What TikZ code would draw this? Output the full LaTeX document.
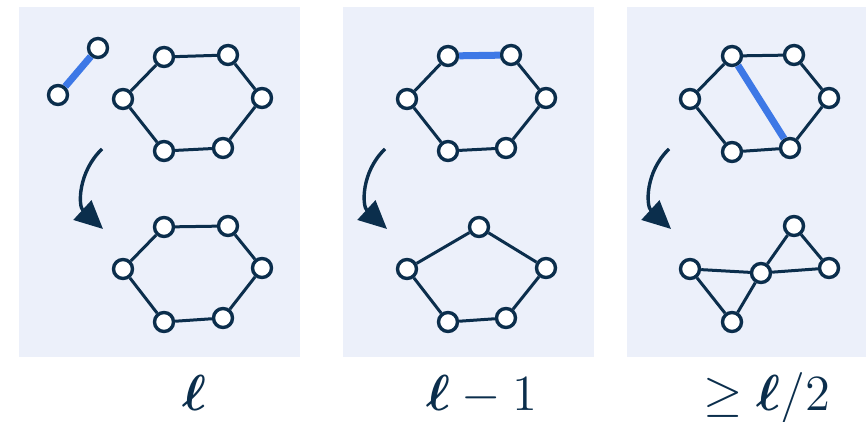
\documentclass[tikz,border=0pt]{standalone}
\usepackage{amsmath,amssymb}
\usepackage{tikz}
\usetikzlibrary{arrows.meta}
\definecolor{navy}{HTML}{0B2E4C}
\definecolor{hlblue}{HTML}{3D78E6}
\definecolor{panelbg}{HTML}{ECF0FA}
\tikzset{
  vtx/.style={circle, draw=navy, fill=white, line width=0.034cm, minimum size=0.19cm, inner sep=0pt},
  link/.style={draw=navy, line width=0.03cm},
  hl/.style={draw=hlblue, line width=0.07cm},
  flow/.style={draw=navy, line width=0.034cm, -{Triangle[length=0.28cm,width=0.26cm]}},
  panel/.style={fill=panelbg, draw=none},
  lbl/.style={text=navy, anchor=base, inner sep=0pt, font=\fontsize{14.5}{17}\selectfont}
}
\begin{document}
\begin{tikzpicture}[x=0.01cm, y=-0.01cm]
\useasboundingbox (0,0) rectangle (867,422);
% panels
\fill[panel] (19,7) rectangle (300,357);
\fill[panel] (343,7) rectangle (594,357);
\fill[panel] (627,7) rectangle (866,357);
% panel A: extra edge + hexagon
\node[vtx] (ka) at (98,48) {};
\node[vtx] (kb) at (58,95) {};
\node[vtx] (ta1) at (164,57) {};
\node[vtx] (ta2) at (228,55) {};
\node[vtx] (ta3) at (262,98) {};
\node[vtx] (ta4) at (223,148) {};
\node[vtx] (ta5) at (164,151) {};
\node[vtx] (ta6) at (123,99) {};
\node[vtx] (ba1) at (164,227) {};
\node[vtx] (ba2) at (228,226) {};
\node[vtx] (ba3) at (262,268) {};
\node[vtx] (ba4) at (223,318) {};
\node[vtx] (ba5) at (164,322) {};
\node[vtx] (ba6) at (123,269) {};
\draw[hl] (ka) -- (kb);
\draw[link] (ta1) -- (ta2) -- (ta3) -- (ta4) -- (ta5) -- (ta6) -- (ta1);
\draw[link] (ba1) -- (ba2) -- (ba3) -- (ba4) -- (ba5) -- (ba6) -- (ba1);
\coordinate (fa0) at (102,149);
\coordinate (fa1) at (103,229);
\draw[flow] (fa0) .. controls +(-24,23) and +(-25,-23) .. (fa1);
% panel B: hexagon -> pentagon
\node[vtx] (tb1) at (448,56) {};
\node[vtx] (tb2) at (511,55) {};
\node[vtx] (tb3) at (546,98) {};
\node[vtx] (tb4) at (506,148) {};
\node[vtx] (tb5) at (448,151) {};
\node[vtx] (tb6) at (407,99) {};
\node[vtx] (bb1) at (479,227) {};
\node[vtx] (bb2) at (546,268) {};
\node[vtx] (bb3) at (506,318) {};
\node[vtx] (bb4) at (448,322) {};
\node[vtx] (bb5) at (407,269) {};
\draw[hl] (tb1) -- (tb2);
\draw[link] (tb2) -- (tb3) -- (tb4) -- (tb5) -- (tb6) -- (tb1);
\draw[link] (bb1) -- (bb2) -- (bb3) -- (bb4) -- (bb5) -- (bb1);
\coordinate (fb0) at (385,149);
\coordinate (fb1) at (387,229);
\draw[flow] (fb0) .. controls +(-24,23) and +(-25,-23) .. (fb1);
% panel C: hexagon with chord -> two triangles
\node[vtx] (tc1) at (732,56) {};
\node[vtx] (tc2) at (794,55) {};
\node[vtx] (tc3) at (829,98) {};
\node[vtx] (tc4) at (790,148) {};
\node[vtx] (tc5) at (732,152) {};
\node[vtx] (tc6) at (690,99) {};
\node[vtx] (bc1) at (690,269) {};
\node[vtx] (bc2) at (761,273) {};
\node[vtx] (bc3) at (732,322) {};
\node[vtx] (bc4) at (794,226) {};
\node[vtx] (bc5) at (829,268) {};
\draw[hl] (tc1) -- (tc4);
\draw[link] (tc1) -- (tc2) -- (tc3) -- (tc4) -- (tc5) -- (tc6) -- (tc1);
\draw[link] (bc1) -- (bc2) -- (bc3) -- (bc1);
\draw[link] (bc2) -- (bc4) -- (bc5) -- (bc2);
\coordinate (fc0) at (669,149);
\coordinate (fc1) at (671,229);
\draw[flow] (fc0) .. controls +(-24,23) and +(-25,-23) .. (fc1);
% labels
\node[lbl] (la) at (194,411) {$\boldsymbol{\ell}$};
\node[lbl] (lb) at (482,411) {$\boldsymbol{\ell}-1$};
\node[lbl] (lc) at (767,411) {$\geq\boldsymbol{\ell}/2$};
\end{tikzpicture}
\end{document}
